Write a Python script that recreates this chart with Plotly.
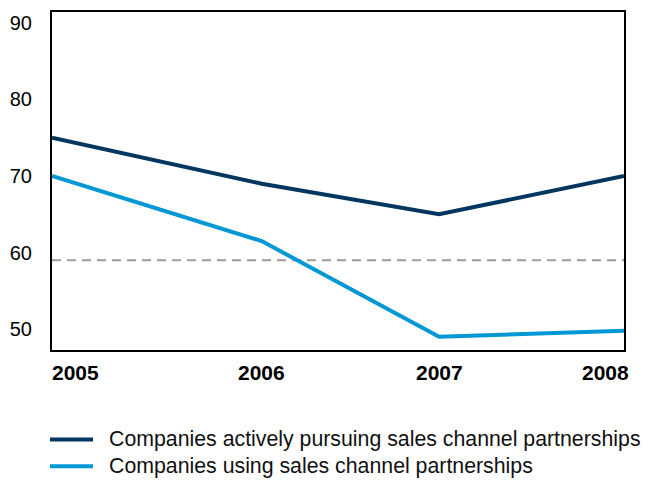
import plotly.graph_objects as go

years = ["2005", "2006", "2007", "2008"]
# survey timing positions along the x axis (years)
x_pos = [2005.0, 2006.1, 2007.03, 2008.0]
pursuing = [75, 69, 65, 70]
using = [70, 61.5, 49, 49.8]
reference_level = 59
y_ticks = [50, 60, 70, 80, 90]
series_names = ["Companies actively pursuing sales channel partnerships",
                "Companies using sales channel partnerships"]

dark = "#00365f"
light = "#0098d4"
colors = [dark, light]
font_family = "Liberation Sans, Arial, Helvetica, sans-serif"

fig = go.Figure()
for vals, name, c in zip([pursuing, using], series_names, colors):
    fig.add_trace(go.Scatter(x=x_pos, y=vals, mode="lines", name=name,
                             line=dict(color=c, width=4), showlegend=False))

fig.add_shape(type="line", xref="paper", x0=0, x1=1, yref="y", y0=reference_level, y1=reference_level,
              line=dict(color="#9b9b9b", width=2, dash="9px,6px"), layer="below")

anchors = ["left", "center", "center", "right"]
shifts = [-2, 0, 0, 7]
for xv, t, a, s in zip(x_pos, years, anchors, shifts):
    fig.add_annotation(x=xv, xref="x", y=0, yref="paper", text="<b>" + t + "</b>", showarrow=False,
                       xanchor=a, yanchor="middle", yshift=-22, xshift=s,
                       font=dict(family=font_family, size=21, color="#000"))

# custom legend
leg_y = [-0.2647, -0.344]
for ly, name, c in zip(leg_y, series_names, colors):
    fig.add_shape(type="line", xref="paper", yref="paper", x0=-0.0035, x1=0.0717, y0=ly, y1=ly,
                  line=dict(color=c, width=4))
    fig.add_annotation(x=0.0962, xref="paper", y=ly, yref="paper", text=name, showarrow=False,
                       xanchor="left", yanchor="middle",
                       font=dict(family=font_family, size=21.3, color="#111"))

fig.update_layout(
    width=641, height=473,
    margin=dict(l=44, r=25, t=2, b=131),
    plot_bgcolor="white", paper_bgcolor="white",
    font=dict(family=font_family, size=20, color="#000"),
    showlegend=False,
    xaxis=dict(range=[x_pos[0], x_pos[-1]], showgrid=False, zeroline=False, showticklabels=False,
               showline=True, linecolor="#000", linewidth=2, mirror=True, ticks=""),
    yaxis=dict(range=[47.27, 91.43], tickvals=y_ticks, showgrid=False, zeroline=False,
               showline=True, linecolor="#000", linewidth=2, mirror=True, ticks="",
               ticklabelstandoff=14, tickfont=dict(size=20)),
)

fig.write_html("out.html")
